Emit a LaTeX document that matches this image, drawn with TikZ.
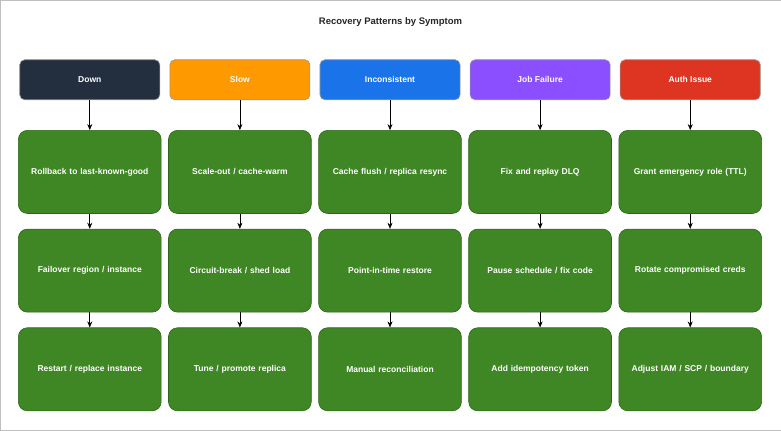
\documentclass[tikz,border=0pt]{standalone}
\usepackage{fontspec}
\setmainfont{Liberation Sans}
\usetikzlibrary{positioning,arrows.meta}
\definecolor{cdown}{HTML}{232F3E}
\definecolor{cslow}{HTML}{FF9900}
\definecolor{cinc}{HTML}{1A73E8}
\definecolor{cjob}{HTML}{8C4FFF}
\definecolor{cauth}{HTML}{DD3522}
\definecolor{cgreen}{HTML}{3F8624}
\definecolor{cgreenb}{HTML}{2D6619}
\begin{document}
\begin{tikzpicture}[x=1pt,y=-1pt,-{Stealth[length=6pt,width=5pt]},semithick,node distance=15pt,
  font=\fontsize{8.5}{11}\selectfont\bfseries]
\tikzstyle{symptom}=[rectangle,rounded corners=5pt,minimum width=140pt,minimum height=40pt,text=white,draw=black!40]
\tikzstyle{fix}=[rectangle,rounded corners=9pt,minimum width=140pt,minimum height=83pt,text width=136pt,align=center,fill=cgreen,draw=cgreenb,text=white]
\draw[-,draw=black!25,fill=white,thin] (0.5,0.5) rectangle (780.5,430.5);
\node (title) at (390.5,22) {\fontsize{9.5}{11}\selectfont\color{black!85}Recovery Patterns by Symptom};
% symptoms
\node[symptom,fill=cdown] (down) at (90,80) {Down};
\node[symptom,fill=cslow] (slow) at (240,80) {Slow};
\node[symptom,fill=cinc] (inc) at (390,80) {Inconsistent};
\node[symptom,fill=cjob] (job) at (540,80) {Job Failure};
\node[symptom,fill=cauth] (auth) at (690,80) {Auth Issue};
% fixes
\node[fix] (down1) [below=30pt of down] {Rollback to last-known-good};
\node[fix] (down2) [below=of down1] {Failover region / instance};
\node[fix] (down3) [below=of down2] {Restart / replace instance};
\node[fix] (slow1) [below=30pt of slow] {Scale-out / cache-warm};
\node[fix] (slow2) [below=of slow1] {Circuit-break / shed load};
\node[fix] (slow3) [below=of slow2] {Tune / promote replica};
\node[fix] (inc1) [below=30pt of inc] {Cache flush / replica resync};
\node[fix] (inc2) [below=of inc1] {Point-in-time restore};
\node[fix] (inc3) [below=of inc2] {Manual reconciliation};
\node[fix] (job1) [below=30pt of job] {Fix and replay DLQ};
\node[fix] (job2) [below=of job1] {Pause schedule / fix code};
\node[fix] (job3) [below=of job2] {Add idempotency token};
\node[fix] (auth1) [below=30pt of auth] {Grant emergency role (TTL)};
\node[fix] (auth2) [below=of auth1] {Rotate compromised creds};
\node[fix] (auth3) [below=of auth2] {Adjust IAM / SCP / boundary};
\foreach \c in {down,slow,inc,job,auth}{
  \path (\c) edge (\c1);
  \path (\c1) edge (\c2);
  \path (\c2) edge (\c3);
}
\end{tikzpicture}
\end{document}
